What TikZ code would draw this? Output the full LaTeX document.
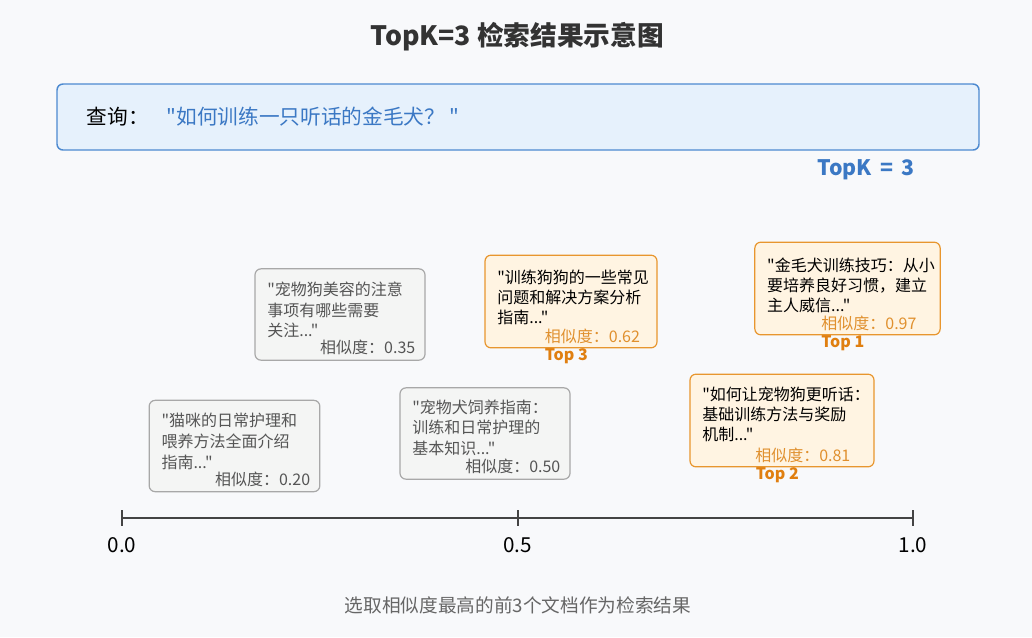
\documentclass[tikz,border=0pt]{standalone}
\usepackage{fontspec}
\setmainfont{Noto Sans CJK SC}[Ligatures=TeXOff]
\usepackage{xcolor}
\usepackage{tikz}
\usetikzlibrary{positioning,calc}
\definecolor{pagebg}{RGB}{248,249,251}
\definecolor{titlegray}{RGB}{51,51,51}
\definecolor{queryfill}{RGB}{230,241,252}
\definecolor{queryline}{RGB}{77,138,208}
\definecolor{queryblue}{RGB}{59,120,196}
\definecolor{docline}{RGB}{168,168,168}
\definecolor{docfill}{RGB}{244,245,244}
\definecolor{doctext}{RGB}{85,85,85}
\definecolor{hitline}{RGB}{232,150,46}
\definecolor{hitfill}{RGB}{255,244,226}
\definecolor{hitscore}{RGB}{224,144,46}
\definecolor{toplabel}{RGB}{224,127,16}
\definecolor{axisgray}{RGB}{68,68,68}
\definecolor{notegray}{RGB}{102,102,102}

\begin{document}
\begin{tikzpicture}[x=0.75pt, y=-0.75pt,
    graybox/.style={rectangle, draw=docline, line width=0.9pt, fill=docfill, rounded corners=4.5pt, minimum height=68.5pt},
    hitbox/.style={rectangle, draw=hitline, line width=0.9pt, fill=hitfill, rounded corners=4.5pt, minimum height=69.5pt},
    graytext/.style={anchor=north west, inner sep=0pt, align=left, text=doctext, font=\fontsize{12}{15.5}\selectfont},
    hittext/.style={anchor=north west, inner sep=0pt, align=left, text=black, font=\fontsize{12}{15}\selectfont},
    grayscore/.style={anchor=south east, inner sep=0pt, text=doctext, font=\fontsize{12}{14}\selectfont},
    hitscore/.style={anchor=south east, inner sep=0pt, text=hitscore, font=\fontsize{12}{14}\selectfont},
    toptag/.style={text=toplabel, font=\bfseries\fontsize{12}{14}\selectfont, inner sep=0pt},
    tick/.style={draw=axisgray, line width=1.8pt},
    ticklabel/.style={text=black, font=\fontsize{15.5}{18}\selectfont}]

    % page and margins
    \fill[pagebg] (0,0) rectangle (1032,637);
    \useasboundingbox (0,0) rectangle (1032,637);

    \node[text=titlegray, font=\bfseries\fontsize{20}{24}\selectfont] (title) at (517,37) {TopK=3 检索结果示意图};

    % query
    \node[rectangle, draw=queryline, line width=1.1pt, fill=queryfill, rounded corners=4.5pt,
          minimum width=691.5pt, minimum height=49.5pt] (query) at (518,117) {};
    \node[anchor=west, font=\fontsize{15.5}{18}\selectfont] (qlabel) at (82,117) {查询：};
    \node[anchor=west, text=queryblue, font=\fontsize{15.5}{18}\selectfont] (qtext) at (162,117) {"如何训练一只听话的金毛犬？ "};
    \node[text=queryblue, font=\bfseries\fontsize{16}{19}\selectfont] (topk) at (866,170) {TopK \,=\, 3};

    % documents
    \node[graybox, minimum width=128pt] (d20) at (234.5,446) {};
    \node[graytext] (d20t) at ([xshift=9.5pt,yshift=-10pt]d20.north west) {"猫咪的日常护理和\\喂养方法全面介绍\\指南..."};
    \node[grayscore] (d20s) at ([xshift=-7.5pt,yshift=4pt]d20.south east) {相似度：0.20};

    \node[graybox, minimum width=127.5pt] (d35) at (340,314.5) {};
    \node[graytext] (d35t) at ([xshift=9.5pt,yshift=-10pt]d35.north west) {"宠物狗美容的注意\\事项有哪些需要\\关注..."};
    \node[grayscore] (d35s) at ([xshift=-7.5pt,yshift=4pt]d35.south east) {相似度：0.35};

    \node[graybox, minimum width=127.5pt] (d50) at (485,433.5) {};
    \node[graytext] (d50t) at ([xshift=9.5pt,yshift=-9pt]d50.north west) {"宠物犬饲养指南：\\训练和日常护理的\\基本知识..."};
    \node[grayscore] (d50s) at ([xshift=-7.5pt,yshift=4pt]d50.south east) {相似度：0.50};

    \node[hitbox, minimum width=129pt] (d62) at (571,301.5) {};
    \node[hittext] (d62t) at ([xshift=9.5pt,yshift=-11.5pt]d62.north west) {"训练狗狗的一些常见\\问题和解决方案分析\\指南..."};
    \node[hitscore] (d62s) at ([xshift=-13pt,yshift=3pt]d62.south east) {相似度：0.62};
    \node[toptag] (top3) at ([xshift=-3.5pt,yshift=-5.5pt]d62.south) {Top 3};

    \node[hitbox, minimum width=139pt] (d97) at (847.5,288.5) {};
    \node[hittext] (d97t) at ([xshift=9.5pt,yshift=-12pt]d97.north west) {"金毛犬训练技巧：从小\\要培养良好习惯，建立\\主人威信..."};
    \node[hitscore] (d97s) at ([xshift=-18pt,yshift=3pt]d97.south east) {相似度：0.97};
    \node[toptag] (top1) at ([xshift=-3.5pt,yshift=-5.5pt]d97.south) {Top 1};

    \node[hitbox, minimum width=138pt] (d81) at (782,420.5) {};
    \node[hittext] (d81t) at ([xshift=9.5pt,yshift=-10pt]d81.north west) {"如何让宠物狗更听话：\\基础训练方法与奖励\\机制..."};
    \node[hitscore] (d81s) at ([xshift=-18pt,yshift=3pt]d81.south east) {相似度：0.81};
    \node[toptag] (top2) at ([xshift=-3.5pt,yshift=-5.5pt]d81.south) {Top 2};

    % similarity axis
    \coordinate (a0) at (122,518);
    \coordinate (a5) at (517.5,518);
    \coordinate (a1) at (913,518);
    \draw[tick] (a0) -- (a1);
    \foreach \p in {a0,a5,a1}
        \draw[tick, line width=1.5pt] ([yshift=6pt]\p) -- ([yshift=-6pt]\p);
    \node[ticklabel] (l0) at (122,545) {0.0};
    \node[ticklabel] (l5) at (517.5,545) {0.5};
    \node[ticklabel] (l1) at (913,545) {1.0};

    \node[text=notegray, font=\fontsize{14}{17}\selectfont] (note) at (518,605) {选取相似度最高的前3个文档作为检索结果};
\end{tikzpicture}
\end{document}
